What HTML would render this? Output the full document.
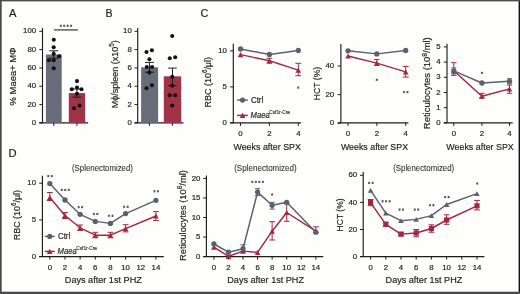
<!DOCTYPE html>
<html><head><meta charset="utf-8"><style>
html,body{margin:0;padding:0;background:#fff;}
body{width:520px;height:294px;overflow:hidden;font-family:"Liberation Sans", sans-serif;}
svg{display:block;will-change:transform;}
text{stroke:#222;stroke-width:0.18px;}
</style></head><body>
<svg width="520" height="294" viewBox="0 0 520 294" font-family='"Liberation Sans", sans-serif'>
<rect width="520" height="294" fill="#fefefd"/>
<text x="9.00" y="17.00" font-size="11.2" text-anchor="start" fill="#222222">A</text>
<text x="105.40" y="17.10" font-size="10.6" text-anchor="start" fill="#222222">B</text>
<text x="200.40" y="17.30" font-size="10.8" text-anchor="start" fill="#222222">C</text>
<text x="8.60" y="157.30" font-size="11.2" text-anchor="start" fill="#222222">D</text>
<line x1="42.50" y1="28.10" x2="42.50" y2="122.90" stroke="#1c1c1c" stroke-width="1.15" stroke-linecap="butt"/>
<line x1="39.30" y1="122.90" x2="42.50" y2="122.90" stroke="#1c1c1c" stroke-width="1.0" stroke-linecap="butt"/>
<text x="36.10" y="125.00" font-size="7.8" text-anchor="end" fill="#222222">0</text>
<line x1="39.30" y1="104.58" x2="42.50" y2="104.58" stroke="#1c1c1c" stroke-width="1.0" stroke-linecap="butt"/>
<text x="36.10" y="106.68" font-size="7.8" text-anchor="end" fill="#222222">20</text>
<line x1="39.30" y1="86.26" x2="42.50" y2="86.26" stroke="#1c1c1c" stroke-width="1.0" stroke-linecap="butt"/>
<text x="36.10" y="88.36" font-size="7.8" text-anchor="end" fill="#222222">40</text>
<line x1="39.30" y1="67.94" x2="42.50" y2="67.94" stroke="#1c1c1c" stroke-width="1.0" stroke-linecap="butt"/>
<text x="36.10" y="70.04" font-size="7.8" text-anchor="end" fill="#222222">60</text>
<line x1="39.30" y1="49.62" x2="42.50" y2="49.62" stroke="#1c1c1c" stroke-width="1.0" stroke-linecap="butt"/>
<text x="36.10" y="51.72" font-size="7.8" text-anchor="end" fill="#222222">80</text>
<line x1="39.30" y1="31.30" x2="42.50" y2="31.30" stroke="#1c1c1c" stroke-width="1.0" stroke-linecap="butt"/>
<text x="36.10" y="33.40" font-size="7.8" text-anchor="end" fill="#222222">100</text>
<line x1="39.30" y1="122.90" x2="88.20" y2="122.90" stroke="#1c1c1c" stroke-width="1.15" stroke-linecap="butt"/>
<line x1="53.80" y1="122.90" x2="53.80" y2="125.90" stroke="#1c1c1c" stroke-width="1.0" stroke-linecap="butt"/>
<line x1="76.90" y1="122.90" x2="76.90" y2="125.90" stroke="#1c1c1c" stroke-width="1.0" stroke-linecap="butt"/>
<rect x="45.9" y="54.5" width="15.8" height="68.40" fill="#686c79"/>
<rect x="68.8" y="93.1" width="16.3" height="29.80" fill="#a03446"/>
<line x1="53.70" y1="50.80" x2="53.70" y2="58.20" stroke="#1c1c1c" stroke-width="1.0" stroke-linecap="butt"/>
<line x1="49.30" y1="50.80" x2="58.10" y2="50.80" stroke="#1c1c1c" stroke-width="1.0" stroke-linecap="butt"/>
<line x1="49.30" y1="58.20" x2="58.10" y2="58.20" stroke="#1c1c1c" stroke-width="1.0" stroke-linecap="butt"/>
<line x1="76.90" y1="89.00" x2="76.90" y2="97.20" stroke="#1c1c1c" stroke-width="1.0" stroke-linecap="butt"/>
<line x1="72.70" y1="89.00" x2="81.10" y2="89.00" stroke="#1c1c1c" stroke-width="1.0" stroke-linecap="butt"/>
<line x1="72.70" y1="97.20" x2="81.10" y2="97.20" stroke="#1c1c1c" stroke-width="1.0" stroke-linecap="butt"/>
<circle cx="53.80" cy="39.70" r="2.05" fill="#111"/>
<circle cx="53.70" cy="47.30" r="2.05" fill="#111"/>
<circle cx="53.70" cy="53.80" r="2.05" fill="#111"/>
<circle cx="59.10" cy="56.20" r="2.05" fill="#111"/>
<circle cx="48.90" cy="60.20" r="2.05" fill="#111"/>
<circle cx="53.70" cy="60.20" r="2.05" fill="#111"/>
<circle cx="53.70" cy="68.20" r="2.05" fill="#111"/>
<circle cx="77.00" cy="81.10" r="2.05" fill="#111"/>
<circle cx="71.80" cy="89.20" r="2.05" fill="#111"/>
<circle cx="77.00" cy="87.50" r="2.05" fill="#111"/>
<circle cx="81.50" cy="89.20" r="2.05" fill="#111"/>
<circle cx="77.00" cy="93.70" r="2.05" fill="#111"/>
<circle cx="74.00" cy="108.30" r="2.05" fill="#111"/>
<circle cx="79.60" cy="105.60" r="2.05" fill="#111"/>
<line x1="53.90" y1="29.90" x2="77.90" y2="29.90" stroke="#707070" stroke-width="1.7" stroke-linecap="butt"/>
<line x1="60.80" y1="24.65" x2="60.80" y2="26.95" stroke="#555555" stroke-width="1.0"/>
<line x1="59.80" y1="25.23" x2="61.80" y2="26.38" stroke="#555555" stroke-width="1.0"/>
<line x1="61.80" y1="25.23" x2="59.80" y2="26.38" stroke="#555555" stroke-width="1.0"/>
<line x1="64.20" y1="24.65" x2="64.20" y2="26.95" stroke="#555555" stroke-width="1.0"/>
<line x1="63.20" y1="25.23" x2="65.20" y2="26.38" stroke="#555555" stroke-width="1.0"/>
<line x1="65.20" y1="25.23" x2="63.20" y2="26.38" stroke="#555555" stroke-width="1.0"/>
<line x1="67.60" y1="24.65" x2="67.60" y2="26.95" stroke="#555555" stroke-width="1.0"/>
<line x1="66.60" y1="25.23" x2="68.60" y2="26.38" stroke="#555555" stroke-width="1.0"/>
<line x1="68.60" y1="25.23" x2="66.60" y2="26.38" stroke="#555555" stroke-width="1.0"/>
<line x1="71.00" y1="24.65" x2="71.00" y2="26.95" stroke="#555555" stroke-width="1.0"/>
<line x1="70.00" y1="25.23" x2="72.00" y2="26.38" stroke="#555555" stroke-width="1.0"/>
<line x1="72.00" y1="25.23" x2="70.00" y2="26.38" stroke="#555555" stroke-width="1.0"/>
<text transform="translate(15.64,76.40) rotate(-90)" font-size="9.4" text-anchor="middle" fill="#222222" textLength="58.00" lengthAdjust="spacingAndGlyphs">% Maea+ MΦ</text>
<line x1="137.70" y1="28.10" x2="137.70" y2="122.90" stroke="#1c1c1c" stroke-width="1.15" stroke-linecap="butt"/>
<line x1="134.50" y1="122.90" x2="137.70" y2="122.90" stroke="#1c1c1c" stroke-width="1.0" stroke-linecap="butt"/>
<text x="131.80" y="125.00" font-size="7.8" text-anchor="end" fill="#222222">0</text>
<line x1="134.50" y1="104.58" x2="137.70" y2="104.58" stroke="#1c1c1c" stroke-width="1.0" stroke-linecap="butt"/>
<text x="131.80" y="106.68" font-size="7.8" text-anchor="end" fill="#222222">2</text>
<line x1="134.50" y1="86.26" x2="137.70" y2="86.26" stroke="#1c1c1c" stroke-width="1.0" stroke-linecap="butt"/>
<text x="131.80" y="88.36" font-size="7.8" text-anchor="end" fill="#222222">4</text>
<line x1="134.50" y1="67.94" x2="137.70" y2="67.94" stroke="#1c1c1c" stroke-width="1.0" stroke-linecap="butt"/>
<text x="131.80" y="70.04" font-size="7.8" text-anchor="end" fill="#222222">6</text>
<line x1="134.50" y1="49.62" x2="137.70" y2="49.62" stroke="#1c1c1c" stroke-width="1.0" stroke-linecap="butt"/>
<text x="131.80" y="51.72" font-size="7.8" text-anchor="end" fill="#222222">8</text>
<line x1="134.50" y1="31.30" x2="137.70" y2="31.30" stroke="#1c1c1c" stroke-width="1.0" stroke-linecap="butt"/>
<text x="131.80" y="33.40" font-size="7.8" text-anchor="end" fill="#222222">10</text>
<line x1="134.50" y1="122.90" x2="183.50" y2="122.90" stroke="#1c1c1c" stroke-width="1.15" stroke-linecap="butt"/>
<line x1="149.40" y1="122.90" x2="149.40" y2="125.90" stroke="#1c1c1c" stroke-width="1.0" stroke-linecap="butt"/>
<line x1="172.40" y1="122.90" x2="172.40" y2="125.90" stroke="#1c1c1c" stroke-width="1.0" stroke-linecap="butt"/>
<rect x="141.1" y="67.3" width="17.0" height="55.60" fill="#686c79"/>
<rect x="163.8" y="76.3" width="17.4" height="46.60" fill="#a03446"/>
<line x1="149.50" y1="62.40" x2="149.50" y2="72.20" stroke="#1c1c1c" stroke-width="1.0" stroke-linecap="butt"/>
<line x1="145.00" y1="62.40" x2="154.00" y2="62.40" stroke="#1c1c1c" stroke-width="1.0" stroke-linecap="butt"/>
<line x1="145.00" y1="72.20" x2="154.00" y2="72.20" stroke="#1c1c1c" stroke-width="1.0" stroke-linecap="butt"/>
<line x1="172.50" y1="68.10" x2="172.50" y2="85.60" stroke="#1c1c1c" stroke-width="1.0" stroke-linecap="butt"/>
<line x1="168.20" y1="68.10" x2="176.80" y2="68.10" stroke="#1c1c1c" stroke-width="1.0" stroke-linecap="butt"/>
<line x1="168.20" y1="85.60" x2="176.80" y2="85.60" stroke="#1c1c1c" stroke-width="1.0" stroke-linecap="butt"/>
<circle cx="146.50" cy="52.00" r="2.05" fill="#111"/>
<circle cx="151.90" cy="50.30" r="2.05" fill="#111"/>
<circle cx="149.40" cy="59.30" r="2.05" fill="#111"/>
<circle cx="146.80" cy="67.00" r="2.05" fill="#111"/>
<circle cx="152.10" cy="67.00" r="2.05" fill="#111"/>
<circle cx="149.40" cy="72.60" r="2.05" fill="#111"/>
<circle cx="146.50" cy="88.20" r="2.05" fill="#111"/>
<circle cx="151.90" cy="85.20" r="2.05" fill="#111"/>
<circle cx="172.20" cy="36.00" r="2.05" fill="#111"/>
<circle cx="169.80" cy="58.30" r="2.05" fill="#111"/>
<circle cx="175.20" cy="57.20" r="2.05" fill="#111"/>
<circle cx="172.20" cy="76.80" r="2.05" fill="#111"/>
<circle cx="172.20" cy="85.80" r="2.05" fill="#111"/>
<circle cx="169.80" cy="95.30" r="2.05" fill="#111"/>
<circle cx="175.20" cy="95.30" r="2.05" fill="#111"/>
<circle cx="172.20" cy="105.60" r="2.05" fill="#111"/>
<text transform="translate(117.74,74.30) rotate(-90)" font-size="9.4" text-anchor="middle" fill="#222222" textLength="68.00" lengthAdjust="spacingAndGlyphs">Mϕ/spleen (x10<tspan dy="-3.8" font-size="6.6">5</tspan><tspan dy="3.8">)</tspan></text>
<line x1="233.30" y1="43.80" x2="233.30" y2="122.90" stroke="#1c1c1c" stroke-width="1.15" stroke-linecap="butt"/>
<line x1="230.10" y1="122.90" x2="233.30" y2="122.90" stroke="#1c1c1c" stroke-width="1.0" stroke-linecap="butt"/>
<text x="226.90" y="125.00" font-size="7.8" text-anchor="end" fill="#222222">0</text>
<line x1="230.10" y1="86.90" x2="233.30" y2="86.90" stroke="#1c1c1c" stroke-width="1.0" stroke-linecap="butt"/>
<text x="226.90" y="89.00" font-size="7.8" text-anchor="end" fill="#222222">5</text>
<line x1="230.10" y1="50.90" x2="233.30" y2="50.90" stroke="#1c1c1c" stroke-width="1.0" stroke-linecap="butt"/>
<text x="226.90" y="53.00" font-size="7.8" text-anchor="end" fill="#222222">10</text>
<line x1="230.10" y1="122.90" x2="301.10" y2="122.90" stroke="#1c1c1c" stroke-width="1.15" stroke-linecap="butt"/>
<line x1="240.50" y1="122.90" x2="240.50" y2="125.90" stroke="#1c1c1c" stroke-width="1.0" stroke-linecap="butt"/>
<text x="240.50" y="136.40" font-size="7.8" text-anchor="middle" fill="#222222">0</text>
<line x1="269.40" y1="122.90" x2="269.40" y2="125.90" stroke="#1c1c1c" stroke-width="1.0" stroke-linecap="butt"/>
<text x="269.40" y="136.40" font-size="7.8" text-anchor="middle" fill="#222222">2</text>
<line x1="298.30" y1="122.90" x2="298.30" y2="125.90" stroke="#1c1c1c" stroke-width="1.0" stroke-linecap="butt"/>
<text x="298.30" y="136.40" font-size="7.8" text-anchor="middle" fill="#222222">4</text>
<line x1="269.40" y1="58.30" x2="269.40" y2="63.20" stroke="#a3283f" stroke-width="1.0" stroke-linecap="butt"/>
<line x1="266.65" y1="58.30" x2="272.15" y2="58.30" stroke="#a3283f" stroke-width="1.0" stroke-linecap="butt"/>
<line x1="266.65" y1="63.20" x2="272.15" y2="63.20" stroke="#a3283f" stroke-width="1.0" stroke-linecap="butt"/>
<line x1="298.30" y1="63.30" x2="298.30" y2="75.70" stroke="#a3283f" stroke-width="1.0" stroke-linecap="butt"/>
<line x1="295.30" y1="63.30" x2="301.30" y2="63.30" stroke="#a3283f" stroke-width="1.0" stroke-linecap="butt"/>
<line x1="295.30" y1="75.70" x2="301.30" y2="75.70" stroke="#a3283f" stroke-width="1.0" stroke-linecap="butt"/>
<polyline points="240.50,49.00 269.40,54.50 298.30,50.50" fill="none" stroke="#5c606d" stroke-width="1.45" stroke-linejoin="round"/>
<polyline points="240.50,54.60 269.40,60.70 298.30,70.10" fill="none" stroke="#a3283f" stroke-width="1.45" stroke-linejoin="round"/>
<circle cx="240.50" cy="49.00" r="2.65" fill="#5c606d"/>
<circle cx="269.40" cy="54.50" r="2.65" fill="#5c606d"/>
<circle cx="298.30" cy="50.50" r="2.65" fill="#5c606d"/>
<polygon points="240.50,52.00 243.30,57.20 237.70,57.20" fill="#a3283f"/>
<polygon points="269.40,58.10 272.20,63.30 266.60,63.30" fill="#a3283f"/>
<polygon points="298.30,67.50 301.10,72.70 295.50,72.70" fill="#a3283f"/>
<line x1="298.30" y1="86.45" x2="298.30" y2="88.75" stroke="#555555" stroke-width="1.0"/>
<line x1="297.30" y1="87.02" x2="299.30" y2="88.17" stroke="#555555" stroke-width="1.0"/>
<line x1="299.30" y1="87.02" x2="297.30" y2="88.17" stroke="#555555" stroke-width="1.0"/>
<line x1="237.10" y1="100.10" x2="247.90" y2="100.10" stroke="#5c606d" stroke-width="1.45" stroke-linecap="butt"/>
<circle cx="242.50" cy="100.10" r="2.6" fill="#5c606d"/>
<line x1="237.10" y1="115.40" x2="247.90" y2="115.40" stroke="#a3283f" stroke-width="1.45" stroke-linecap="butt"/>
<polygon points="242.60,112.75 245.50,118.05 239.70,118.05" fill="#a3283f"/>
<text transform="translate(250.90,102.80) scale(0.9380,1)" font-size="8.5" text-anchor="start" fill="#222222">Ctrl</text>
<text transform="translate(250.60,117.80) scale(0.8528,1)" font-size="9.0" text-anchor="start" fill="#222222" font-style="italic">Maea</text>
<text transform="translate(269.20,114.00) scale(0.8275,1)" font-size="5.8" text-anchor="start" fill="#3a3a3a">Csf1r-Cre</text>
<text transform="translate(211.24,82.20) rotate(-90)" font-size="9.4" text-anchor="middle" fill="#222222" textLength="50.40" lengthAdjust="spacingAndGlyphs">RBC (10<tspan dy="-3.8" font-size="6.6">6</tspan><tspan dy="3.8">/μl)</tspan></text>
<text transform="translate(233.40,149.50) scale(0.9271,1)" font-size="9.6" text-anchor="start" fill="#222222">Weeks after SPX</text>
<line x1="340.90" y1="44.10" x2="340.90" y2="122.90" stroke="#1c1c1c" stroke-width="1.15" stroke-linecap="butt"/>
<line x1="337.70" y1="123.20" x2="340.90" y2="123.20" stroke="#1c1c1c" stroke-width="1.0" stroke-linecap="butt"/>
<text x="334.20" y="125.30" font-size="7.8" text-anchor="end" fill="#222222">0</text>
<line x1="337.70" y1="94.60" x2="340.90" y2="94.60" stroke="#1c1c1c" stroke-width="1.0" stroke-linecap="butt"/>
<text x="334.20" y="96.70" font-size="7.8" text-anchor="end" fill="#222222">20</text>
<line x1="337.70" y1="66.00" x2="340.90" y2="66.00" stroke="#1c1c1c" stroke-width="1.0" stroke-linecap="butt"/>
<text x="334.20" y="68.10" font-size="7.8" text-anchor="end" fill="#222222">40</text>
<line x1="337.70" y1="122.90" x2="408.40" y2="122.90" stroke="#1c1c1c" stroke-width="1.15" stroke-linecap="butt"/>
<line x1="348.00" y1="122.90" x2="348.00" y2="125.90" stroke="#1c1c1c" stroke-width="1.0" stroke-linecap="butt"/>
<text x="348.00" y="136.40" font-size="7.8" text-anchor="middle" fill="#222222">0</text>
<line x1="376.80" y1="122.90" x2="376.80" y2="125.90" stroke="#1c1c1c" stroke-width="1.0" stroke-linecap="butt"/>
<text x="376.80" y="136.40" font-size="7.8" text-anchor="middle" fill="#222222">2</text>
<line x1="405.70" y1="122.90" x2="405.70" y2="125.90" stroke="#1c1c1c" stroke-width="1.0" stroke-linecap="butt"/>
<text x="405.70" y="136.40" font-size="7.8" text-anchor="middle" fill="#222222">4</text>
<line x1="376.80" y1="59.50" x2="376.80" y2="65.50" stroke="#a3283f" stroke-width="1.0" stroke-linecap="butt"/>
<line x1="374.05" y1="59.50" x2="379.55" y2="59.50" stroke="#a3283f" stroke-width="1.0" stroke-linecap="butt"/>
<line x1="374.05" y1="65.50" x2="379.55" y2="65.50" stroke="#a3283f" stroke-width="1.0" stroke-linecap="butt"/>
<line x1="405.70" y1="66.40" x2="405.70" y2="77.10" stroke="#a3283f" stroke-width="1.0" stroke-linecap="butt"/>
<line x1="402.70" y1="66.40" x2="408.70" y2="66.40" stroke="#a3283f" stroke-width="1.0" stroke-linecap="butt"/>
<line x1="402.70" y1="77.10" x2="408.70" y2="77.10" stroke="#a3283f" stroke-width="1.0" stroke-linecap="butt"/>
<polyline points="348.00,50.80 376.80,53.90 405.70,50.50" fill="none" stroke="#5c606d" stroke-width="1.45" stroke-linejoin="round"/>
<polyline points="348.00,56.00 376.80,63.10 405.70,71.90" fill="none" stroke="#a3283f" stroke-width="1.45" stroke-linejoin="round"/>
<circle cx="348.00" cy="50.80" r="2.65" fill="#5c606d"/>
<circle cx="376.80" cy="53.90" r="2.65" fill="#5c606d"/>
<circle cx="405.70" cy="50.50" r="2.65" fill="#5c606d"/>
<polygon points="348.00,53.40 350.80,58.60 345.20,58.60" fill="#a3283f"/>
<polygon points="376.80,60.50 379.60,65.70 374.00,65.70" fill="#a3283f"/>
<polygon points="405.70,69.30 408.50,74.50 402.90,74.50" fill="#a3283f"/>
<line x1="376.80" y1="78.65" x2="376.80" y2="80.95" stroke="#555555" stroke-width="1.0"/>
<line x1="375.80" y1="79.22" x2="377.80" y2="80.38" stroke="#555555" stroke-width="1.0"/>
<line x1="377.80" y1="79.22" x2="375.80" y2="80.38" stroke="#555555" stroke-width="1.0"/>
<line x1="403.95" y1="90.95" x2="403.95" y2="93.25" stroke="#555555" stroke-width="1.0"/>
<line x1="402.95" y1="91.52" x2="404.95" y2="92.67" stroke="#555555" stroke-width="1.0"/>
<line x1="404.95" y1="91.52" x2="402.95" y2="92.67" stroke="#555555" stroke-width="1.0"/>
<line x1="407.45" y1="90.95" x2="407.45" y2="93.25" stroke="#555555" stroke-width="1.0"/>
<line x1="406.45" y1="91.52" x2="408.45" y2="92.67" stroke="#555555" stroke-width="1.0"/>
<line x1="408.45" y1="91.52" x2="406.45" y2="92.67" stroke="#555555" stroke-width="1.0"/>
<text transform="translate(319.74,83.50) rotate(-90)" font-size="9.4" text-anchor="middle" fill="#222222" textLength="33.30" lengthAdjust="spacingAndGlyphs">HCT (%)</text>
<text transform="translate(340.90,149.50) scale(0.9229,1)" font-size="9.6" text-anchor="start" fill="#222222">Weeks after SPX</text>
<line x1="447.00" y1="43.80" x2="447.00" y2="122.90" stroke="#1c1c1c" stroke-width="1.15" stroke-linecap="butt"/>
<line x1="443.80" y1="122.90" x2="447.00" y2="122.90" stroke="#1c1c1c" stroke-width="1.0" stroke-linecap="butt"/>
<text x="440.50" y="125.00" font-size="7.8" text-anchor="end" fill="#222222">0</text>
<line x1="443.80" y1="107.70" x2="447.00" y2="107.70" stroke="#1c1c1c" stroke-width="1.0" stroke-linecap="butt"/>
<text x="440.50" y="109.80" font-size="7.8" text-anchor="end" fill="#222222">1</text>
<line x1="443.80" y1="92.50" x2="447.00" y2="92.50" stroke="#1c1c1c" stroke-width="1.0" stroke-linecap="butt"/>
<text x="440.50" y="94.60" font-size="7.8" text-anchor="end" fill="#222222">2</text>
<line x1="443.80" y1="77.30" x2="447.00" y2="77.30" stroke="#1c1c1c" stroke-width="1.0" stroke-linecap="butt"/>
<text x="440.50" y="79.40" font-size="7.8" text-anchor="end" fill="#222222">3</text>
<line x1="443.80" y1="62.10" x2="447.00" y2="62.10" stroke="#1c1c1c" stroke-width="1.0" stroke-linecap="butt"/>
<text x="440.50" y="64.20" font-size="7.8" text-anchor="end" fill="#222222">4</text>
<line x1="443.80" y1="46.90" x2="447.00" y2="46.90" stroke="#1c1c1c" stroke-width="1.0" stroke-linecap="butt"/>
<text x="440.50" y="49.00" font-size="7.8" text-anchor="end" fill="#222222">5</text>
<line x1="443.80" y1="122.90" x2="512.70" y2="122.90" stroke="#1c1c1c" stroke-width="1.15" stroke-linecap="butt"/>
<line x1="453.80" y1="122.90" x2="453.80" y2="125.90" stroke="#1c1c1c" stroke-width="1.0" stroke-linecap="butt"/>
<text x="453.80" y="136.40" font-size="7.8" text-anchor="middle" fill="#222222">0</text>
<line x1="481.90" y1="122.90" x2="481.90" y2="125.90" stroke="#1c1c1c" stroke-width="1.0" stroke-linecap="butt"/>
<text x="481.90" y="136.40" font-size="7.8" text-anchor="middle" fill="#222222">2</text>
<line x1="509.50" y1="122.90" x2="509.50" y2="125.90" stroke="#1c1c1c" stroke-width="1.0" stroke-linecap="butt"/>
<text x="509.50" y="136.40" font-size="7.8" text-anchor="middle" fill="#222222">4</text>
<line x1="453.80" y1="62.70" x2="453.80" y2="75.40" stroke="#a3283f" stroke-width="1.0" stroke-linecap="butt"/>
<line x1="451.05" y1="62.70" x2="456.55" y2="62.70" stroke="#a3283f" stroke-width="1.0" stroke-linecap="butt"/>
<line x1="451.05" y1="75.40" x2="456.55" y2="75.40" stroke="#a3283f" stroke-width="1.0" stroke-linecap="butt"/>
<line x1="481.90" y1="93.30" x2="481.90" y2="98.00" stroke="#a3283f" stroke-width="1.0" stroke-linecap="butt"/>
<line x1="479.15" y1="93.30" x2="484.65" y2="93.30" stroke="#a3283f" stroke-width="1.0" stroke-linecap="butt"/>
<line x1="479.15" y1="98.00" x2="484.65" y2="98.00" stroke="#a3283f" stroke-width="1.0" stroke-linecap="butt"/>
<line x1="509.50" y1="85.10" x2="509.50" y2="93.30" stroke="#a3283f" stroke-width="1.0" stroke-linecap="butt"/>
<line x1="506.75" y1="85.10" x2="512.25" y2="85.10" stroke="#a3283f" stroke-width="1.0" stroke-linecap="butt"/>
<line x1="506.75" y1="93.30" x2="512.25" y2="93.30" stroke="#a3283f" stroke-width="1.0" stroke-linecap="butt"/>
<line x1="453.80" y1="67.90" x2="453.80" y2="73.80" stroke="#5c606d" stroke-width="1.0" stroke-linecap="butt"/>
<line x1="451.30" y1="67.90" x2="456.30" y2="67.90" stroke="#5c606d" stroke-width="1.0" stroke-linecap="butt"/>
<line x1="451.30" y1="73.80" x2="456.30" y2="73.80" stroke="#5c606d" stroke-width="1.0" stroke-linecap="butt"/>
<line x1="509.50" y1="78.70" x2="509.50" y2="83.80" stroke="#5c606d" stroke-width="1.0" stroke-linecap="butt"/>
<line x1="507.00" y1="78.70" x2="512.00" y2="78.70" stroke="#5c606d" stroke-width="1.0" stroke-linecap="butt"/>
<line x1="507.00" y1="83.80" x2="512.00" y2="83.80" stroke="#5c606d" stroke-width="1.0" stroke-linecap="butt"/>
<polyline points="453.80,70.80 481.90,96.20 509.50,88.90" fill="none" stroke="#a3283f" stroke-width="1.45" stroke-linejoin="round"/>
<polyline points="453.80,70.80 481.90,83.00 509.50,81.30" fill="none" stroke="#5c606d" stroke-width="1.45" stroke-linejoin="round"/>
<polygon points="453.80,68.20 456.60,73.40 451.00,73.40" fill="#a3283f"/>
<polygon points="481.90,93.60 484.70,98.80 479.10,98.80" fill="#a3283f"/>
<polygon points="509.50,86.30 512.30,91.50 506.70,91.50" fill="#a3283f"/>
<circle cx="453.80" cy="70.80" r="2.65" fill="#5c606d"/>
<circle cx="481.90" cy="83.00" r="2.65" fill="#5c606d"/>
<circle cx="509.50" cy="81.30" r="2.65" fill="#5c606d"/>
<line x1="481.90" y1="71.75" x2="481.90" y2="74.05" stroke="#555555" stroke-width="1.0"/>
<line x1="480.90" y1="72.33" x2="482.90" y2="73.48" stroke="#555555" stroke-width="1.0"/>
<line x1="482.90" y1="72.33" x2="480.90" y2="73.48" stroke="#555555" stroke-width="1.0"/>
<text transform="translate(430.34,83.20) rotate(-90)" font-size="9.4" text-anchor="middle" fill="#222222" textLength="91.90" lengthAdjust="spacingAndGlyphs">Reticulocytes (10<tspan dy="-3.8" font-size="6.6">8</tspan><tspan dy="3.8">/ml)</tspan></text>
<text transform="translate(446.30,149.90) scale(0.9257,1)" font-size="9.6" text-anchor="start" fill="#222222">Weeks after SPX</text>
<line x1="42.40" y1="175.80" x2="42.40" y2="256.60" stroke="#1c1c1c" stroke-width="1.15" stroke-linecap="butt"/>
<line x1="39.20" y1="256.60" x2="42.40" y2="256.60" stroke="#1c1c1c" stroke-width="1.0" stroke-linecap="butt"/>
<text x="36.00" y="258.70" font-size="7.8" text-anchor="end" fill="#222222">0</text>
<line x1="39.20" y1="219.90" x2="42.40" y2="219.90" stroke="#1c1c1c" stroke-width="1.0" stroke-linecap="butt"/>
<text x="36.00" y="222.00" font-size="7.8" text-anchor="end" fill="#222222">5</text>
<line x1="39.20" y1="183.20" x2="42.40" y2="183.20" stroke="#1c1c1c" stroke-width="1.0" stroke-linecap="butt"/>
<text x="36.00" y="185.30" font-size="7.8" text-anchor="end" fill="#222222">10</text>
<line x1="39.20" y1="256.60" x2="163.80" y2="256.60" stroke="#1c1c1c" stroke-width="1.15" stroke-linecap="butt"/>
<line x1="49.80" y1="256.60" x2="49.80" y2="259.60" stroke="#1c1c1c" stroke-width="1.0" stroke-linecap="butt"/>
<text x="49.80" y="269.90" font-size="7.8" text-anchor="middle" fill="#222222">0</text>
<line x1="64.96" y1="256.60" x2="64.96" y2="259.60" stroke="#1c1c1c" stroke-width="1.0" stroke-linecap="butt"/>
<text x="64.96" y="269.90" font-size="7.8" text-anchor="middle" fill="#222222">2</text>
<line x1="80.12" y1="256.60" x2="80.12" y2="259.60" stroke="#1c1c1c" stroke-width="1.0" stroke-linecap="butt"/>
<text x="80.12" y="269.90" font-size="7.8" text-anchor="middle" fill="#222222">4</text>
<line x1="95.28" y1="256.60" x2="95.28" y2="259.60" stroke="#1c1c1c" stroke-width="1.0" stroke-linecap="butt"/>
<text x="95.28" y="269.90" font-size="7.8" text-anchor="middle" fill="#222222">6</text>
<line x1="110.44" y1="256.60" x2="110.44" y2="259.60" stroke="#1c1c1c" stroke-width="1.0" stroke-linecap="butt"/>
<text x="110.44" y="269.90" font-size="7.8" text-anchor="middle" fill="#222222">8</text>
<line x1="125.60" y1="256.60" x2="125.60" y2="259.60" stroke="#1c1c1c" stroke-width="1.0" stroke-linecap="butt"/>
<text x="125.60" y="269.90" font-size="7.8" text-anchor="middle" fill="#222222">10</text>
<line x1="140.76" y1="256.60" x2="140.76" y2="259.60" stroke="#1c1c1c" stroke-width="1.0" stroke-linecap="butt"/>
<text x="140.76" y="269.90" font-size="7.8" text-anchor="middle" fill="#222222">12</text>
<line x1="155.92" y1="256.60" x2="155.92" y2="259.60" stroke="#1c1c1c" stroke-width="1.0" stroke-linecap="butt"/>
<text x="155.92" y="269.90" font-size="7.8" text-anchor="middle" fill="#222222">14</text>
<line x1="49.80" y1="192.50" x2="49.80" y2="200.50" stroke="#a3283f" stroke-width="1.0" stroke-linecap="butt"/>
<line x1="46.90" y1="192.50" x2="52.70" y2="192.50" stroke="#a3283f" stroke-width="1.0" stroke-linecap="butt"/>
<line x1="46.90" y1="200.50" x2="52.70" y2="200.50" stroke="#a3283f" stroke-width="1.0" stroke-linecap="butt"/>
<line x1="64.96" y1="212.50" x2="64.96" y2="218.50" stroke="#a3283f" stroke-width="1.0" stroke-linecap="butt"/>
<line x1="62.06" y1="212.50" x2="67.86" y2="212.50" stroke="#a3283f" stroke-width="1.0" stroke-linecap="butt"/>
<line x1="62.06" y1="218.50" x2="67.86" y2="218.50" stroke="#a3283f" stroke-width="1.0" stroke-linecap="butt"/>
<line x1="80.12" y1="225.00" x2="80.12" y2="230.40" stroke="#a3283f" stroke-width="1.0" stroke-linecap="butt"/>
<line x1="77.22" y1="225.00" x2="83.02" y2="225.00" stroke="#a3283f" stroke-width="1.0" stroke-linecap="butt"/>
<line x1="77.22" y1="230.40" x2="83.02" y2="230.40" stroke="#a3283f" stroke-width="1.0" stroke-linecap="butt"/>
<line x1="95.28" y1="232.30" x2="95.28" y2="237.80" stroke="#a3283f" stroke-width="1.0" stroke-linecap="butt"/>
<line x1="92.38" y1="232.30" x2="98.18" y2="232.30" stroke="#a3283f" stroke-width="1.0" stroke-linecap="butt"/>
<line x1="92.38" y1="237.80" x2="98.18" y2="237.80" stroke="#a3283f" stroke-width="1.0" stroke-linecap="butt"/>
<line x1="110.44" y1="232.30" x2="110.44" y2="237.80" stroke="#a3283f" stroke-width="1.0" stroke-linecap="butt"/>
<line x1="107.54" y1="232.30" x2="113.34" y2="232.30" stroke="#a3283f" stroke-width="1.0" stroke-linecap="butt"/>
<line x1="107.54" y1="237.80" x2="113.34" y2="237.80" stroke="#a3283f" stroke-width="1.0" stroke-linecap="butt"/>
<line x1="125.60" y1="224.70" x2="125.60" y2="231.90" stroke="#a3283f" stroke-width="1.0" stroke-linecap="butt"/>
<line x1="122.70" y1="224.70" x2="128.50" y2="224.70" stroke="#a3283f" stroke-width="1.0" stroke-linecap="butt"/>
<line x1="122.70" y1="231.90" x2="128.50" y2="231.90" stroke="#a3283f" stroke-width="1.0" stroke-linecap="butt"/>
<line x1="155.92" y1="211.60" x2="155.92" y2="220.60" stroke="#a3283f" stroke-width="1.0" stroke-linecap="butt"/>
<line x1="153.02" y1="211.60" x2="158.82" y2="211.60" stroke="#a3283f" stroke-width="1.0" stroke-linecap="butt"/>
<line x1="153.02" y1="220.60" x2="158.82" y2="220.60" stroke="#a3283f" stroke-width="1.0" stroke-linecap="butt"/>
<polyline points="49.80,183.60 64.96,200.00 80.12,214.30 95.28,221.40 110.44,223.40 125.60,213.60 155.92,200.30" fill="none" stroke="#5c606d" stroke-width="1.45" stroke-linejoin="round"/>
<polyline points="49.80,197.50 64.96,215.50 80.12,227.80 95.28,235.20 110.44,235.20 125.60,228.70 155.92,216.00" fill="none" stroke="#a3283f" stroke-width="1.45" stroke-linejoin="round"/>
<circle cx="49.80" cy="183.60" r="2.65" fill="#5c606d"/>
<circle cx="64.96" cy="200.00" r="2.65" fill="#5c606d"/>
<circle cx="80.12" cy="214.30" r="2.65" fill="#5c606d"/>
<circle cx="95.28" cy="221.40" r="2.65" fill="#5c606d"/>
<circle cx="110.44" cy="223.40" r="2.65" fill="#5c606d"/>
<circle cx="125.60" cy="213.60" r="2.65" fill="#5c606d"/>
<circle cx="155.92" cy="200.30" r="2.65" fill="#5c606d"/>
<polygon points="49.80,194.90 52.60,200.10 47.00,200.10" fill="#a3283f"/>
<polygon points="64.96,212.90 67.76,218.10 62.16,218.10" fill="#a3283f"/>
<polygon points="80.12,225.20 82.92,230.40 77.32,230.40" fill="#a3283f"/>
<polygon points="95.28,232.60 98.08,237.80 92.48,237.80" fill="#a3283f"/>
<polygon points="110.44,232.60 113.24,237.80 107.64,237.80" fill="#a3283f"/>
<polygon points="125.60,226.10 128.40,231.30 122.80,231.30" fill="#a3283f"/>
<polygon points="155.92,213.40 158.72,218.60 153.12,218.60" fill="#a3283f"/>
<line x1="48.35" y1="174.95" x2="48.35" y2="177.25" stroke="#555555" stroke-width="1.0"/>
<line x1="47.35" y1="175.53" x2="49.35" y2="176.67" stroke="#555555" stroke-width="1.0"/>
<line x1="49.35" y1="175.53" x2="47.35" y2="176.67" stroke="#555555" stroke-width="1.0"/>
<line x1="51.85" y1="174.95" x2="51.85" y2="177.25" stroke="#555555" stroke-width="1.0"/>
<line x1="50.85" y1="175.53" x2="52.85" y2="176.67" stroke="#555555" stroke-width="1.0"/>
<line x1="52.85" y1="175.53" x2="50.85" y2="176.67" stroke="#555555" stroke-width="1.0"/>
<line x1="61.76" y1="188.75" x2="61.76" y2="191.05" stroke="#555555" stroke-width="1.0"/>
<line x1="60.76" y1="189.33" x2="62.76" y2="190.47" stroke="#555555" stroke-width="1.0"/>
<line x1="62.76" y1="189.33" x2="60.76" y2="190.47" stroke="#555555" stroke-width="1.0"/>
<line x1="65.26" y1="188.75" x2="65.26" y2="191.05" stroke="#555555" stroke-width="1.0"/>
<line x1="64.26" y1="189.33" x2="66.26" y2="190.47" stroke="#555555" stroke-width="1.0"/>
<line x1="66.26" y1="189.33" x2="64.26" y2="190.47" stroke="#555555" stroke-width="1.0"/>
<line x1="68.76" y1="188.75" x2="68.76" y2="191.05" stroke="#555555" stroke-width="1.0"/>
<line x1="67.76" y1="189.33" x2="69.76" y2="190.47" stroke="#555555" stroke-width="1.0"/>
<line x1="69.76" y1="189.33" x2="67.76" y2="190.47" stroke="#555555" stroke-width="1.0"/>
<line x1="78.67" y1="206.05" x2="78.67" y2="208.35" stroke="#555555" stroke-width="1.0"/>
<line x1="77.67" y1="206.62" x2="79.67" y2="207.77" stroke="#555555" stroke-width="1.0"/>
<line x1="79.67" y1="206.62" x2="77.67" y2="207.77" stroke="#555555" stroke-width="1.0"/>
<line x1="82.17" y1="206.05" x2="82.17" y2="208.35" stroke="#555555" stroke-width="1.0"/>
<line x1="81.17" y1="206.62" x2="83.17" y2="207.77" stroke="#555555" stroke-width="1.0"/>
<line x1="83.17" y1="206.62" x2="81.17" y2="207.77" stroke="#555555" stroke-width="1.0"/>
<line x1="93.83" y1="212.85" x2="93.83" y2="215.15" stroke="#555555" stroke-width="1.0"/>
<line x1="92.83" y1="213.43" x2="94.83" y2="214.57" stroke="#555555" stroke-width="1.0"/>
<line x1="94.83" y1="213.43" x2="92.83" y2="214.57" stroke="#555555" stroke-width="1.0"/>
<line x1="97.33" y1="212.85" x2="97.33" y2="215.15" stroke="#555555" stroke-width="1.0"/>
<line x1="96.33" y1="213.43" x2="98.33" y2="214.57" stroke="#555555" stroke-width="1.0"/>
<line x1="98.33" y1="213.43" x2="96.33" y2="214.57" stroke="#555555" stroke-width="1.0"/>
<line x1="108.99" y1="214.65" x2="108.99" y2="216.95" stroke="#555555" stroke-width="1.0"/>
<line x1="107.99" y1="215.23" x2="109.99" y2="216.38" stroke="#555555" stroke-width="1.0"/>
<line x1="109.99" y1="215.23" x2="107.99" y2="216.38" stroke="#555555" stroke-width="1.0"/>
<line x1="112.49" y1="214.65" x2="112.49" y2="216.95" stroke="#555555" stroke-width="1.0"/>
<line x1="111.49" y1="215.23" x2="113.49" y2="216.38" stroke="#555555" stroke-width="1.0"/>
<line x1="113.49" y1="215.23" x2="111.49" y2="216.38" stroke="#555555" stroke-width="1.0"/>
<line x1="124.15" y1="205.65" x2="124.15" y2="207.95" stroke="#555555" stroke-width="1.0"/>
<line x1="123.15" y1="206.23" x2="125.15" y2="207.38" stroke="#555555" stroke-width="1.0"/>
<line x1="125.15" y1="206.23" x2="123.15" y2="207.38" stroke="#555555" stroke-width="1.0"/>
<line x1="127.65" y1="205.65" x2="127.65" y2="207.95" stroke="#555555" stroke-width="1.0"/>
<line x1="126.65" y1="206.23" x2="128.65" y2="207.38" stroke="#555555" stroke-width="1.0"/>
<line x1="128.65" y1="206.23" x2="126.65" y2="207.38" stroke="#555555" stroke-width="1.0"/>
<line x1="154.47" y1="190.15" x2="154.47" y2="192.45" stroke="#555555" stroke-width="1.0"/>
<line x1="153.47" y1="190.73" x2="155.47" y2="191.88" stroke="#555555" stroke-width="1.0"/>
<line x1="155.47" y1="190.73" x2="153.47" y2="191.88" stroke="#555555" stroke-width="1.0"/>
<line x1="157.97" y1="190.15" x2="157.97" y2="192.45" stroke="#555555" stroke-width="1.0"/>
<line x1="156.97" y1="190.73" x2="158.97" y2="191.88" stroke="#555555" stroke-width="1.0"/>
<line x1="158.97" y1="190.73" x2="156.97" y2="191.88" stroke="#555555" stroke-width="1.0"/>
<line x1="44.70" y1="236.40" x2="54.70" y2="236.40" stroke="#5c606d" stroke-width="1.45" stroke-linecap="butt"/>
<circle cx="49.70" cy="236.40" r="2.6" fill="#5c606d"/>
<line x1="44.70" y1="251.40" x2="54.70" y2="251.40" stroke="#a3283f" stroke-width="1.45" stroke-linecap="butt"/>
<polygon points="49.70,248.75 52.60,254.05 46.80,254.05" fill="#a3283f"/>
<text transform="translate(57.90,239.10) scale(0.9380,1)" font-size="8.5" text-anchor="start" fill="#222222">Ctrl</text>
<text transform="translate(57.60,253.80) scale(0.8528,1)" font-size="9.0" text-anchor="start" fill="#222222" font-style="italic">Maea</text>
<text transform="translate(76.20,250.00) scale(0.8275,1)" font-size="5.8" text-anchor="start" fill="#3a3a3a">Csf1r-Cre</text>
<text transform="translate(20.04,215.10) rotate(-90)" font-size="9.4" text-anchor="middle" fill="#222222" textLength="50.40" lengthAdjust="spacingAndGlyphs">RBC (10<tspan dy="-3.8" font-size="6.6">6</tspan><tspan dy="3.8">/μl)</tspan></text>
<text transform="translate(72.00,170.80) scale(0.9115,1)" font-size="8.6" text-anchor="start" fill="#333" style="stroke:#333;stroke-width:0.1px">(Splenectomized)</text>
<text transform="translate(64.80,283.10) scale(0.9496,1)" font-size="9.6" text-anchor="start" fill="#222222">Days after 1st PHZ</text>
<line x1="206.40" y1="175.60" x2="206.40" y2="256.60" stroke="#1c1c1c" stroke-width="1.15" stroke-linecap="butt"/>
<line x1="203.20" y1="256.60" x2="206.40" y2="256.60" stroke="#1c1c1c" stroke-width="1.0" stroke-linecap="butt"/>
<text x="200.40" y="258.70" font-size="7.8" text-anchor="end" fill="#222222">0</text>
<line x1="203.20" y1="237.05" x2="206.40" y2="237.05" stroke="#1c1c1c" stroke-width="1.0" stroke-linecap="butt"/>
<text x="200.40" y="239.15" font-size="7.8" text-anchor="end" fill="#222222">5</text>
<line x1="203.20" y1="217.50" x2="206.40" y2="217.50" stroke="#1c1c1c" stroke-width="1.0" stroke-linecap="butt"/>
<text x="200.40" y="219.60" font-size="7.8" text-anchor="end" fill="#222222">10</text>
<line x1="203.20" y1="197.95" x2="206.40" y2="197.95" stroke="#1c1c1c" stroke-width="1.0" stroke-linecap="butt"/>
<text x="200.40" y="200.05" font-size="7.8" text-anchor="end" fill="#222222">15</text>
<line x1="203.20" y1="178.40" x2="206.40" y2="178.40" stroke="#1c1c1c" stroke-width="1.0" stroke-linecap="butt"/>
<text x="200.40" y="180.50" font-size="7.8" text-anchor="end" fill="#222222">20</text>
<line x1="203.20" y1="256.60" x2="323.30" y2="256.60" stroke="#1c1c1c" stroke-width="1.15" stroke-linecap="butt"/>
<line x1="213.90" y1="256.60" x2="213.90" y2="259.60" stroke="#1c1c1c" stroke-width="1.0" stroke-linecap="butt"/>
<text x="213.90" y="269.90" font-size="7.8" text-anchor="middle" fill="#222222">0</text>
<line x1="228.46" y1="256.60" x2="228.46" y2="259.60" stroke="#1c1c1c" stroke-width="1.0" stroke-linecap="butt"/>
<text x="228.46" y="269.90" font-size="7.8" text-anchor="middle" fill="#222222">2</text>
<line x1="243.02" y1="256.60" x2="243.02" y2="259.60" stroke="#1c1c1c" stroke-width="1.0" stroke-linecap="butt"/>
<text x="243.02" y="269.90" font-size="7.8" text-anchor="middle" fill="#222222">4</text>
<line x1="257.58" y1="256.60" x2="257.58" y2="259.60" stroke="#1c1c1c" stroke-width="1.0" stroke-linecap="butt"/>
<text x="257.58" y="269.90" font-size="7.8" text-anchor="middle" fill="#222222">6</text>
<line x1="272.14" y1="256.60" x2="272.14" y2="259.60" stroke="#1c1c1c" stroke-width="1.0" stroke-linecap="butt"/>
<text x="272.14" y="269.90" font-size="7.8" text-anchor="middle" fill="#222222">8</text>
<line x1="286.70" y1="256.60" x2="286.70" y2="259.60" stroke="#1c1c1c" stroke-width="1.0" stroke-linecap="butt"/>
<text x="286.70" y="269.90" font-size="7.8" text-anchor="middle" fill="#222222">10</text>
<line x1="301.26" y1="256.60" x2="301.26" y2="259.60" stroke="#1c1c1c" stroke-width="1.0" stroke-linecap="butt"/>
<text x="301.26" y="269.90" font-size="7.8" text-anchor="middle" fill="#222222">12</text>
<line x1="315.82" y1="256.60" x2="315.82" y2="259.60" stroke="#1c1c1c" stroke-width="1.0" stroke-linecap="butt"/>
<text x="315.82" y="269.90" font-size="7.8" text-anchor="middle" fill="#222222">14</text>
<line x1="272.14" y1="221.70" x2="272.14" y2="240.00" stroke="#a3283f" stroke-width="1.0" stroke-linecap="butt"/>
<line x1="269.24" y1="221.70" x2="275.04" y2="221.70" stroke="#a3283f" stroke-width="1.0" stroke-linecap="butt"/>
<line x1="269.24" y1="240.00" x2="275.04" y2="240.00" stroke="#a3283f" stroke-width="1.0" stroke-linecap="butt"/>
<line x1="286.70" y1="203.80" x2="286.70" y2="221.30" stroke="#a3283f" stroke-width="1.0" stroke-linecap="butt"/>
<line x1="283.80" y1="203.80" x2="289.60" y2="203.80" stroke="#a3283f" stroke-width="1.0" stroke-linecap="butt"/>
<line x1="283.80" y1="221.30" x2="289.60" y2="221.30" stroke="#a3283f" stroke-width="1.0" stroke-linecap="butt"/>
<line x1="315.82" y1="226.80" x2="315.82" y2="232.60" stroke="#a3283f" stroke-width="1.0" stroke-linecap="butt"/>
<line x1="312.92" y1="226.80" x2="318.72" y2="226.80" stroke="#a3283f" stroke-width="1.0" stroke-linecap="butt"/>
<line x1="312.92" y1="232.60" x2="318.72" y2="232.60" stroke="#a3283f" stroke-width="1.0" stroke-linecap="butt"/>
<line x1="243.02" y1="244.80" x2="243.02" y2="252.00" stroke="#5c606d" stroke-width="1.0" stroke-linecap="butt"/>
<line x1="240.42" y1="244.80" x2="245.62" y2="244.80" stroke="#5c606d" stroke-width="1.0" stroke-linecap="butt"/>
<line x1="240.42" y1="252.00" x2="245.62" y2="252.00" stroke="#5c606d" stroke-width="1.0" stroke-linecap="butt"/>
<line x1="257.58" y1="188.70" x2="257.58" y2="195.50" stroke="#5c606d" stroke-width="1.0" stroke-linecap="butt"/>
<line x1="254.98" y1="188.70" x2="260.18" y2="188.70" stroke="#5c606d" stroke-width="1.0" stroke-linecap="butt"/>
<line x1="254.98" y1="195.50" x2="260.18" y2="195.50" stroke="#5c606d" stroke-width="1.0" stroke-linecap="butt"/>
<line x1="272.14" y1="202.30" x2="272.14" y2="209.10" stroke="#5c606d" stroke-width="1.0" stroke-linecap="butt"/>
<line x1="269.54" y1="202.30" x2="274.74" y2="202.30" stroke="#5c606d" stroke-width="1.0" stroke-linecap="butt"/>
<line x1="269.54" y1="209.10" x2="274.74" y2="209.10" stroke="#5c606d" stroke-width="1.0" stroke-linecap="butt"/>
<polyline points="213.90,247.10 228.46,256.30 243.02,251.10 257.58,252.40 272.14,231.20 286.70,212.50 315.82,231.20" fill="none" stroke="#a3283f" stroke-width="1.45" stroke-linejoin="round"/>
<polyline points="213.90,244.00 228.46,252.20 243.02,248.70 257.58,192.10 272.14,205.30 286.70,202.30 315.82,232.20" fill="none" stroke="#5c606d" stroke-width="1.45" stroke-linejoin="round"/>
<polygon points="213.90,244.50 216.70,249.70 211.10,249.70" fill="#a3283f"/>
<polygon points="228.46,253.70 231.26,258.90 225.66,258.90" fill="#a3283f"/>
<polygon points="243.02,248.50 245.82,253.70 240.22,253.70" fill="#a3283f"/>
<polygon points="257.58,249.80 260.38,255.00 254.78,255.00" fill="#a3283f"/>
<polygon points="272.14,228.60 274.94,233.80 269.34,233.80" fill="#a3283f"/>
<polygon points="286.70,209.90 289.50,215.10 283.90,215.10" fill="#a3283f"/>
<polygon points="315.82,229.00 318.12,233.40 313.52,233.40" fill="#a3283f"/>
<circle cx="213.90" cy="244.00" r="2.65" fill="#5c606d"/>
<circle cx="228.46" cy="252.20" r="2.65" fill="#5c606d"/>
<circle cx="243.02" cy="248.70" r="2.65" fill="#5c606d"/>
<circle cx="257.58" cy="192.10" r="2.65" fill="#5c606d"/>
<circle cx="272.14" cy="205.30" r="2.65" fill="#5c606d"/>
<circle cx="286.70" cy="202.30" r="2.65" fill="#5c606d"/>
<circle cx="315.82" cy="232.20" r="2.65" fill="#5c606d"/>
<line x1="252.33" y1="180.75" x2="252.33" y2="183.05" stroke="#555555" stroke-width="1.0"/>
<line x1="251.33" y1="181.33" x2="253.33" y2="182.47" stroke="#555555" stroke-width="1.0"/>
<line x1="253.33" y1="181.33" x2="251.33" y2="182.47" stroke="#555555" stroke-width="1.0"/>
<line x1="255.83" y1="180.75" x2="255.83" y2="183.05" stroke="#555555" stroke-width="1.0"/>
<line x1="254.83" y1="181.33" x2="256.83" y2="182.47" stroke="#555555" stroke-width="1.0"/>
<line x1="256.83" y1="181.33" x2="254.83" y2="182.47" stroke="#555555" stroke-width="1.0"/>
<line x1="259.33" y1="180.75" x2="259.33" y2="183.05" stroke="#555555" stroke-width="1.0"/>
<line x1="258.33" y1="181.33" x2="260.33" y2="182.47" stroke="#555555" stroke-width="1.0"/>
<line x1="260.33" y1="181.33" x2="258.33" y2="182.47" stroke="#555555" stroke-width="1.0"/>
<line x1="262.83" y1="180.75" x2="262.83" y2="183.05" stroke="#555555" stroke-width="1.0"/>
<line x1="261.83" y1="181.33" x2="263.83" y2="182.47" stroke="#555555" stroke-width="1.0"/>
<line x1="263.83" y1="181.33" x2="261.83" y2="182.47" stroke="#555555" stroke-width="1.0"/>
<line x1="272.14" y1="193.35" x2="272.14" y2="195.65" stroke="#555555" stroke-width="1.0"/>
<line x1="271.14" y1="193.93" x2="273.14" y2="195.07" stroke="#555555" stroke-width="1.0"/>
<line x1="273.14" y1="193.93" x2="271.14" y2="195.07" stroke="#555555" stroke-width="1.0"/>
<text transform="translate(186.14,215.50) rotate(-90)" font-size="9.4" text-anchor="middle" fill="#222222" textLength="90.80" lengthAdjust="spacingAndGlyphs">Reticulocytes (10<tspan dy="-3.8" font-size="6.6">8</tspan><tspan dy="3.8">/ml)</tspan></text>
<text transform="translate(234.20,170.80) scale(0.9355,1)" font-size="8.6" text-anchor="start" fill="#333" style="stroke:#333;stroke-width:0.1px">(Splenectomized)</text>
<text transform="translate(227.30,283.10) scale(0.9471,1)" font-size="9.6" text-anchor="start" fill="#222222">Days after 1st PHZ</text>
<line x1="363.20" y1="172.10" x2="363.20" y2="256.60" stroke="#1c1c1c" stroke-width="1.15" stroke-linecap="butt"/>
<line x1="360.00" y1="256.60" x2="363.20" y2="256.60" stroke="#1c1c1c" stroke-width="1.0" stroke-linecap="butt"/>
<text x="357.20" y="258.70" font-size="7.8" text-anchor="end" fill="#222222">0</text>
<line x1="360.00" y1="229.50" x2="363.20" y2="229.50" stroke="#1c1c1c" stroke-width="1.0" stroke-linecap="butt"/>
<text x="357.20" y="231.60" font-size="7.8" text-anchor="end" fill="#222222">20</text>
<line x1="360.00" y1="202.40" x2="363.20" y2="202.40" stroke="#1c1c1c" stroke-width="1.0" stroke-linecap="butt"/>
<text x="357.20" y="204.50" font-size="7.8" text-anchor="end" fill="#222222">40</text>
<line x1="360.00" y1="175.30" x2="363.20" y2="175.30" stroke="#1c1c1c" stroke-width="1.0" stroke-linecap="butt"/>
<text x="357.20" y="177.40" font-size="7.8" text-anchor="end" fill="#222222">60</text>
<line x1="360.00" y1="256.60" x2="484.40" y2="256.60" stroke="#1c1c1c" stroke-width="1.15" stroke-linecap="butt"/>
<line x1="370.60" y1="256.60" x2="370.60" y2="259.60" stroke="#1c1c1c" stroke-width="1.0" stroke-linecap="butt"/>
<text x="370.60" y="269.90" font-size="7.8" text-anchor="middle" fill="#222222">0</text>
<line x1="385.80" y1="256.60" x2="385.80" y2="259.60" stroke="#1c1c1c" stroke-width="1.0" stroke-linecap="butt"/>
<text x="385.80" y="269.90" font-size="7.8" text-anchor="middle" fill="#222222">2</text>
<line x1="401.00" y1="256.60" x2="401.00" y2="259.60" stroke="#1c1c1c" stroke-width="1.0" stroke-linecap="butt"/>
<text x="401.00" y="269.90" font-size="7.8" text-anchor="middle" fill="#222222">4</text>
<line x1="416.20" y1="256.60" x2="416.20" y2="259.60" stroke="#1c1c1c" stroke-width="1.0" stroke-linecap="butt"/>
<text x="416.20" y="269.90" font-size="7.8" text-anchor="middle" fill="#222222">6</text>
<line x1="431.40" y1="256.60" x2="431.40" y2="259.60" stroke="#1c1c1c" stroke-width="1.0" stroke-linecap="butt"/>
<text x="431.40" y="269.90" font-size="7.8" text-anchor="middle" fill="#222222">8</text>
<line x1="446.60" y1="256.60" x2="446.60" y2="259.60" stroke="#1c1c1c" stroke-width="1.0" stroke-linecap="butt"/>
<text x="446.60" y="269.90" font-size="7.8" text-anchor="middle" fill="#222222">10</text>
<line x1="461.80" y1="256.60" x2="461.80" y2="259.60" stroke="#1c1c1c" stroke-width="1.0" stroke-linecap="butt"/>
<text x="461.80" y="269.90" font-size="7.8" text-anchor="middle" fill="#222222">12</text>
<line x1="477.00" y1="256.60" x2="477.00" y2="259.60" stroke="#1c1c1c" stroke-width="1.0" stroke-linecap="butt"/>
<text x="477.00" y="269.90" font-size="7.8" text-anchor="middle" fill="#222222">14</text>
<line x1="370.60" y1="199.50" x2="370.60" y2="205.70" stroke="#a3283f" stroke-width="1.0" stroke-linecap="butt"/>
<line x1="367.70" y1="199.50" x2="373.50" y2="199.50" stroke="#a3283f" stroke-width="1.0" stroke-linecap="butt"/>
<line x1="367.70" y1="205.70" x2="373.50" y2="205.70" stroke="#a3283f" stroke-width="1.0" stroke-linecap="butt"/>
<line x1="385.80" y1="222.30" x2="385.80" y2="226.30" stroke="#a3283f" stroke-width="1.0" stroke-linecap="butt"/>
<line x1="382.90" y1="222.30" x2="388.70" y2="222.30" stroke="#a3283f" stroke-width="1.0" stroke-linecap="butt"/>
<line x1="382.90" y1="226.30" x2="388.70" y2="226.30" stroke="#a3283f" stroke-width="1.0" stroke-linecap="butt"/>
<line x1="401.00" y1="232.40" x2="401.00" y2="235.80" stroke="#a3283f" stroke-width="1.0" stroke-linecap="butt"/>
<line x1="398.10" y1="232.40" x2="403.90" y2="232.40" stroke="#a3283f" stroke-width="1.0" stroke-linecap="butt"/>
<line x1="398.10" y1="235.80" x2="403.90" y2="235.80" stroke="#a3283f" stroke-width="1.0" stroke-linecap="butt"/>
<line x1="416.20" y1="229.50" x2="416.20" y2="236.80" stroke="#a3283f" stroke-width="1.0" stroke-linecap="butt"/>
<line x1="413.30" y1="229.50" x2="419.10" y2="229.50" stroke="#a3283f" stroke-width="1.0" stroke-linecap="butt"/>
<line x1="413.30" y1="236.80" x2="419.10" y2="236.80" stroke="#a3283f" stroke-width="1.0" stroke-linecap="butt"/>
<line x1="431.40" y1="224.80" x2="431.40" y2="232.20" stroke="#a3283f" stroke-width="1.0" stroke-linecap="butt"/>
<line x1="428.50" y1="224.80" x2="434.30" y2="224.80" stroke="#a3283f" stroke-width="1.0" stroke-linecap="butt"/>
<line x1="428.50" y1="232.20" x2="434.30" y2="232.20" stroke="#a3283f" stroke-width="1.0" stroke-linecap="butt"/>
<line x1="446.60" y1="214.80" x2="446.60" y2="224.30" stroke="#a3283f" stroke-width="1.0" stroke-linecap="butt"/>
<line x1="443.70" y1="214.80" x2="449.50" y2="214.80" stroke="#a3283f" stroke-width="1.0" stroke-linecap="butt"/>
<line x1="443.70" y1="224.30" x2="449.50" y2="224.30" stroke="#a3283f" stroke-width="1.0" stroke-linecap="butt"/>
<line x1="477.00" y1="200.40" x2="477.00" y2="209.90" stroke="#a3283f" stroke-width="1.0" stroke-linecap="butt"/>
<line x1="474.10" y1="200.40" x2="479.90" y2="200.40" stroke="#a3283f" stroke-width="1.0" stroke-linecap="butt"/>
<line x1="474.10" y1="209.90" x2="479.90" y2="209.90" stroke="#a3283f" stroke-width="1.0" stroke-linecap="butt"/>
<polyline points="370.60,190.30 385.80,213.10 401.00,220.70 416.20,219.40 431.40,215.60 446.60,204.50 477.00,193.60" fill="none" stroke="#5c606d" stroke-width="1.45" stroke-linejoin="round"/>
<polyline points="370.60,202.60 385.80,224.30 401.00,234.10 416.20,233.00 431.40,228.50 446.60,220.00 477.00,205.80" fill="none" stroke="#a3283f" stroke-width="1.45" stroke-linejoin="round"/>
<polygon points="370.60,187.90 373.40,192.70 367.80,192.70" fill="#5c606d"/>
<polygon points="385.80,210.70 388.60,215.50 383.00,215.50" fill="#5c606d"/>
<polygon points="401.00,218.30 403.80,223.10 398.20,223.10" fill="#5c606d"/>
<polygon points="416.20,217.00 419.00,221.80 413.40,221.80" fill="#5c606d"/>
<polygon points="431.40,213.20 434.20,218.00 428.60,218.00" fill="#5c606d"/>
<polygon points="446.60,202.10 449.40,206.90 443.80,206.90" fill="#5c606d"/>
<polygon points="477.00,191.20 479.80,196.00 474.20,196.00" fill="#5c606d"/>
<rect x="368.00" y="200.00" width="5.2" height="5.2" fill="#a3283f"/>
<rect x="383.20" y="221.70" width="5.2" height="5.2" fill="#a3283f"/>
<rect x="398.40" y="231.50" width="5.2" height="5.2" fill="#a3283f"/>
<rect x="413.60" y="230.40" width="5.2" height="5.2" fill="#a3283f"/>
<rect x="428.80" y="225.90" width="5.2" height="5.2" fill="#a3283f"/>
<rect x="444.00" y="217.40" width="5.2" height="5.2" fill="#a3283f"/>
<rect x="474.40" y="203.20" width="5.2" height="5.2" fill="#a3283f"/>
<line x1="369.15" y1="181.75" x2="369.15" y2="184.05" stroke="#555555" stroke-width="1.0"/>
<line x1="368.15" y1="182.33" x2="370.15" y2="183.47" stroke="#555555" stroke-width="1.0"/>
<line x1="370.15" y1="182.33" x2="368.15" y2="183.47" stroke="#555555" stroke-width="1.0"/>
<line x1="372.65" y1="181.75" x2="372.65" y2="184.05" stroke="#555555" stroke-width="1.0"/>
<line x1="371.65" y1="182.33" x2="373.65" y2="183.47" stroke="#555555" stroke-width="1.0"/>
<line x1="373.65" y1="182.33" x2="371.65" y2="183.47" stroke="#555555" stroke-width="1.0"/>
<line x1="382.60" y1="200.15" x2="382.60" y2="202.45" stroke="#555555" stroke-width="1.0"/>
<line x1="381.60" y1="200.73" x2="383.60" y2="201.88" stroke="#555555" stroke-width="1.0"/>
<line x1="383.60" y1="200.73" x2="381.60" y2="201.88" stroke="#555555" stroke-width="1.0"/>
<line x1="386.10" y1="200.15" x2="386.10" y2="202.45" stroke="#555555" stroke-width="1.0"/>
<line x1="385.10" y1="200.73" x2="387.10" y2="201.88" stroke="#555555" stroke-width="1.0"/>
<line x1="387.10" y1="200.73" x2="385.10" y2="201.88" stroke="#555555" stroke-width="1.0"/>
<line x1="389.60" y1="200.15" x2="389.60" y2="202.45" stroke="#555555" stroke-width="1.0"/>
<line x1="388.60" y1="200.73" x2="390.60" y2="201.88" stroke="#555555" stroke-width="1.0"/>
<line x1="390.60" y1="200.73" x2="388.60" y2="201.88" stroke="#555555" stroke-width="1.0"/>
<line x1="399.55" y1="208.45" x2="399.55" y2="210.75" stroke="#555555" stroke-width="1.0"/>
<line x1="398.55" y1="209.03" x2="400.55" y2="210.17" stroke="#555555" stroke-width="1.0"/>
<line x1="400.55" y1="209.03" x2="398.55" y2="210.17" stroke="#555555" stroke-width="1.0"/>
<line x1="403.05" y1="208.45" x2="403.05" y2="210.75" stroke="#555555" stroke-width="1.0"/>
<line x1="402.05" y1="209.03" x2="404.05" y2="210.17" stroke="#555555" stroke-width="1.0"/>
<line x1="404.05" y1="209.03" x2="402.05" y2="210.17" stroke="#555555" stroke-width="1.0"/>
<line x1="414.75" y1="208.45" x2="414.75" y2="210.75" stroke="#555555" stroke-width="1.0"/>
<line x1="413.75" y1="209.03" x2="415.75" y2="210.17" stroke="#555555" stroke-width="1.0"/>
<line x1="415.75" y1="209.03" x2="413.75" y2="210.17" stroke="#555555" stroke-width="1.0"/>
<line x1="418.25" y1="208.45" x2="418.25" y2="210.75" stroke="#555555" stroke-width="1.0"/>
<line x1="417.25" y1="209.03" x2="419.25" y2="210.17" stroke="#555555" stroke-width="1.0"/>
<line x1="419.25" y1="209.03" x2="417.25" y2="210.17" stroke="#555555" stroke-width="1.0"/>
<line x1="429.95" y1="204.05" x2="429.95" y2="206.35" stroke="#555555" stroke-width="1.0"/>
<line x1="428.95" y1="204.62" x2="430.95" y2="205.77" stroke="#555555" stroke-width="1.0"/>
<line x1="430.95" y1="204.62" x2="428.95" y2="205.77" stroke="#555555" stroke-width="1.0"/>
<line x1="433.45" y1="204.05" x2="433.45" y2="206.35" stroke="#555555" stroke-width="1.0"/>
<line x1="432.45" y1="204.62" x2="434.45" y2="205.77" stroke="#555555" stroke-width="1.0"/>
<line x1="434.45" y1="204.62" x2="432.45" y2="205.77" stroke="#555555" stroke-width="1.0"/>
<line x1="445.15" y1="195.95" x2="445.15" y2="198.25" stroke="#555555" stroke-width="1.0"/>
<line x1="444.15" y1="196.53" x2="446.15" y2="197.67" stroke="#555555" stroke-width="1.0"/>
<line x1="446.15" y1="196.53" x2="444.15" y2="197.67" stroke="#555555" stroke-width="1.0"/>
<line x1="448.65" y1="195.95" x2="448.65" y2="198.25" stroke="#555555" stroke-width="1.0"/>
<line x1="447.65" y1="196.53" x2="449.65" y2="197.67" stroke="#555555" stroke-width="1.0"/>
<line x1="449.65" y1="196.53" x2="447.65" y2="197.67" stroke="#555555" stroke-width="1.0"/>
<line x1="477.30" y1="182.35" x2="477.30" y2="184.65" stroke="#555555" stroke-width="1.0"/>
<line x1="476.30" y1="182.93" x2="478.30" y2="184.07" stroke="#555555" stroke-width="1.0"/>
<line x1="478.30" y1="182.93" x2="476.30" y2="184.07" stroke="#555555" stroke-width="1.0"/>
<text transform="translate(342.84,214.90) rotate(-90)" font-size="9.4" text-anchor="middle" fill="#222222" textLength="33.00" lengthAdjust="spacingAndGlyphs">HCT (%)</text>
<text transform="translate(393.20,170.80) scale(0.9115,1)" font-size="8.6" text-anchor="start" fill="#333" style="stroke:#333;stroke-width:0.1px">(Splenectomized)</text>
<text transform="translate(385.60,283.00) scale(0.9471,1)" font-size="9.6" text-anchor="start" fill="#222222">Days after 1st PHZ</text>
<rect x="518.6" y="0" width="1.4" height="294" fill="#121212"/>
<rect x="0" y="0" width="520" height="1.4" fill="#4d4d4d"/>
<rect x="0" y="0" width="1.7" height="294" fill="#4a4a4a"/>
<rect x="0" y="291.7" width="520" height="2.3" fill="#4a4a4a"/>
</svg>
</body></html>
